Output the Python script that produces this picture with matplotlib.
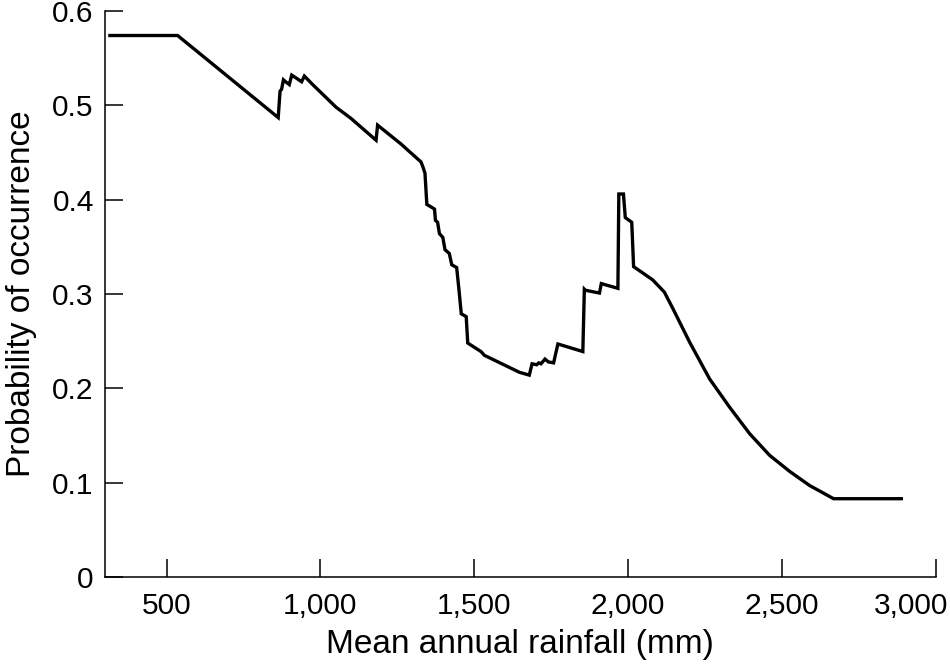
import matplotlib.pyplot as plt
from matplotlib.ticker import FuncFormatter
from matplotlib.transforms import ScaledTranslation

plt.rcParams['font.family'] = ['Liberation Sans', 'DejaVu Sans']

# rainfall (mm) and probability of occurrence
rainfall = [316, 536, 863, 869, 874, 880, 887, 899, 907, 921, 939, 948, 975,
            1051, 1100, 1181, 1186, 1262, 1279, 1327, 1333, 1340, 1346, 1371,
            1374, 1381, 1387, 1398, 1405, 1419, 1427, 1443, 1450, 1458, 1474,
            1479, 1522, 1533, 1647, 1679, 1688, 1703, 1710, 1717, 1730, 1741,
            1758, 1772, 1853, 1858, 1861, 1907, 1913, 1967, 1970, 1985, 1991,
            2012, 2018, 2080, 2118, 2145, 2200, 2265, 2330, 2395, 2460, 2525,
            2590, 2668, 2888]
probability = [0.574, 0.574, 0.487, 0.515, 0.517, 0.527, 0.525, 0.522, 0.532,
               0.529, 0.525, 0.531, 0.522, 0.498, 0.486, 0.463, 0.479, 0.459,
               0.454, 0.440, 0.435, 0.428, 0.395, 0.390, 0.378, 0.376, 0.364,
               0.360, 0.347, 0.343, 0.331, 0.328, 0.306, 0.279, 0.276, 0.248,
               0.239, 0.235, 0.217, 0.214, 0.226, 0.225, 0.227, 0.226, 0.231,
               0.228, 0.227, 0.247, 0.239, 0.305, 0.304, 0.301, 0.311, 0.306,
               0.406, 0.406, 0.381, 0.376, 0.329, 0.315, 0.302, 0.285, 0.249,
               0.210, 0.180, 0.152, 0.129, 0.112, 0.097, 0.083, 0.083]

x_ticks = [500, 1000, 1500, 2000, 2500, 3000]
y_ticks = [0, 0.1, 0.2, 0.3, 0.4, 0.5, 0.6]

fig = plt.figure(figsize=(9.5, 6.69), dpi=100)
ax = fig.add_axes([0.1105, 0.1375, 0.8745, 0.8461])

ax.plot(rainfall, probability, color='black', linewidth=2.4, solid_joinstyle='miter')

ax.set_xlim(300, 3000)
ax.set_ylim(0, 0.6)
ax.set_xticks(x_ticks)
ax.set_yticks(y_ticks)
ax.xaxis.set_major_formatter(FuncFormatter(lambda v, p: f'{int(v):,}'))
ax.yaxis.set_major_formatter(FuncFormatter(lambda v, p: '0' if v == 0 else f'{v:.1f}'))

for side in ['top', 'right']:
    ax.spines[side].set_visible(False)
for side in ['left', 'bottom']:
    ax.spines[side].set_linewidth(1.1)

ax.tick_params(direction='in', length=13, width=1.1, labelsize=21.5)
ax.tick_params(axis='x', pad=11)
ax.tick_params(axis='y', pad=8)

ax.set_xlabel('Mean annual rainfall (mm)', fontsize=24, labelpad=6)
ax.set_ylabel('Probability of occurrence', fontsize=24, labelpad=11)

# last x label pulled left so it stays inside the figure
last = ax.get_xticklabels()[-1]
last.set_transform(last.get_transform() + ScaledTranslation(-0.25, 0, fig.dpi_scale_trans))

plt.savefig('out.png', dpi=100)
